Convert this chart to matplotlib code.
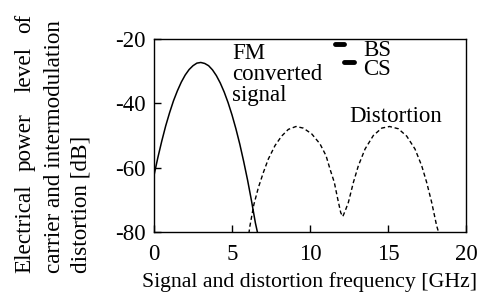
import numpy as np
import matplotlib
matplotlib.use('Agg')
import matplotlib.pyplot as plt

# FM converted signal (solid)
fm_freq = [0, 0.25, 0.5, 0.75, 1.0, 1.25, 1.5, 1.75, 2.0, 2.25, 2.5, 2.75, 3.0,
           3.25, 3.5, 3.75, 4.0, 4.25, 4.5, 4.75, 5.0, 5.25, 5.5, 5.75, 6.0,
           6.25, 6.5, 6.65]
fm_level = [-62.4, -56.8, -51.7, -47.0, -42.9, -39.2, -36.1, -33.4, -31.2,
            -29.5, -28.3, -27.5, -27.3, -27.6, -28.3, -29.6, -31.4, -33.7,
            -36.5, -39.8, -43.6, -47.9, -52.7, -58.1, -63.9, -70.3, -77.2, -80.5]

# intermodulation distortion (dashed)
dist_freq = [6.08, 6.15, 6.4, 6.69, 7.01, 7.33, 7.76, 8.18, 8.61, 9.1, 9.57,
             10.11, 10.64, 11.03, 11.28, 11.56, 11.78, 11.97, 12.1, 12.25,
             12.46, 12.78, 13.1, 13.53, 14.06, 14.6, 15.1, 15.66, 16.2, 16.73,
             17.16, 17.48, 17.8, 18.12, 18.27]
dist_level = [-80.5, -78.1, -71.5, -66.2, -61.5, -57.3, -53.1, -50.2, -48.1,
              -47.2, -47.7, -49.5, -52.6, -56.3, -60.4, -64.6, -69.8, -74.0,
              -75.2, -73.5, -70.8, -64.6, -59.4, -54.2, -50.0, -47.7, -47.2,
              -47.9, -50.2, -54.2, -59.4, -64.6, -70.8, -78.1, -80.5]

# carriers
bs_freq = [11.6, 12.2]
bs_level = [-21.7, -21.7]
cs_freq = [12.2, 12.85]
cs_level = [-27.2, -27.2]

xticks = [0, 5, 10, 15, 20]
yticks = [-80, -60, -40, -20]

plt.rcParams['font.family'] = ['Liberation Serif', 'DejaVu Serif']
fs = 16.5

fig = plt.figure(figsize=(4.9, 2.96), dpi=100)
ax = fig.add_axes([154 / 490, 1 - 232 / 296, 312 / 490, 193 / 296])

ax.plot(fm_freq, fm_level, color='black', lw=1.1)
ax.plot(dist_freq, dist_level, color='black', lw=1.0, linestyle=(0, (3, 2)))
ax.plot(bs_freq, bs_level, color='black', lw=3.5, solid_capstyle='round')
ax.plot(cs_freq, cs_level, color='black', lw=3.5, solid_capstyle='round')

ax.text(5.0, -21.3, 'FM\nconverted\nsignal', fontsize=fs, va='top', ha='left',
        linespacing=0.98)
ax.text(13.4, -25.4, 'BS', fontsize=fs, va='baseline', ha='left')
ax.text(13.4, -31.3, 'CS', fontsize=fs, va='baseline', ha='left')
ax.text(12.5, -45.9, 'Distortion', fontsize=fs, va='baseline', ha='left')

ax.set_xlim(0, 20)
ax.set_ylim(-80, -20)
ax.set_xticks(xticks)
ax.set_yticks(yticks)
ax.set_xticklabels([str(t) for t in xticks], fontsize=fs)
ax.set_yticklabels([str(t) for t in yticks], fontsize=fs)
ax.tick_params(axis='x', direction='in', length=5, width=1, pad=9)
ax.tick_params(axis='y', direction='in', length=5, width=1, pad=6)
for sp in ax.spines.values():
    sp.set_linewidth(1)
ax.set_xlabel('Signal and distortion frequency [GHz]', fontsize=15.7, labelpad=5)

# justified y label (pixel positions from the top)
ylab = [
    ('Electrical', 25, 273), ('power', 25, 171), ('level', 25, 92), ('of', 25, 33),
    ('carrier and intermodulation', 54, 273),
    ('distortion [dB]', 81, 273),
]
for word, px, py in ylab:
    fig.text(px / 490, 1 - py / 296, word, fontsize=16.7, rotation=90,
             rotation_mode='anchor', ha='left', va='center')

fig.savefig('out.png', dpi=100)
